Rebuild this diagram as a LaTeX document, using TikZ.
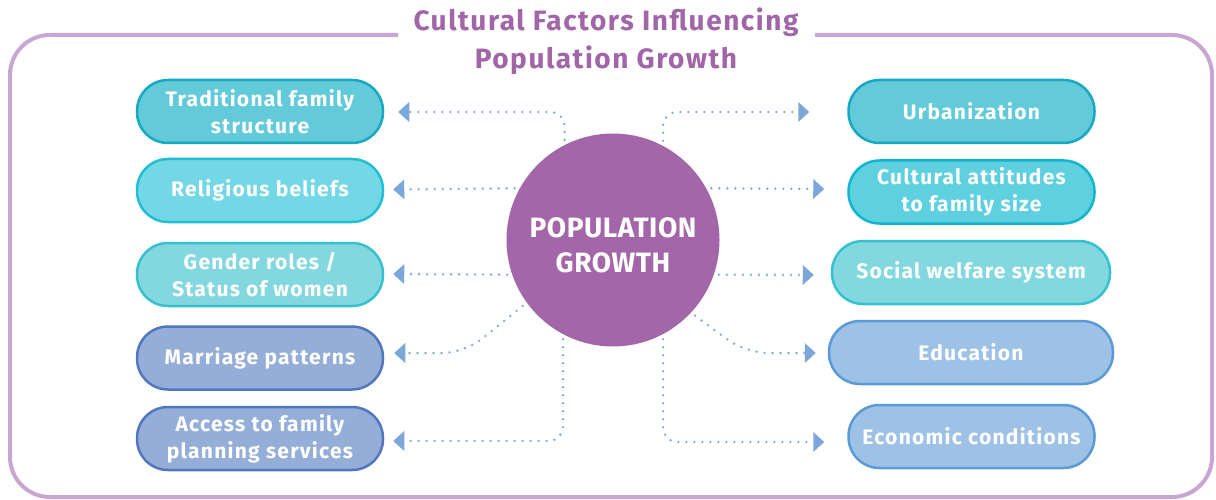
\documentclass[tikz,border=0pt]{standalone}
\usepackage{fontspec}
\setmainfont{Fira Sans}
\newfontfamily\boxfont[LetterSpace=6]{Fira Sans}
\newfontfamily\ttlfont[LetterSpace=5.5]{Fira Sans}
\newfontfamily\circfont[LetterSpace=2]{Fira Sans}
\usetikzlibrary{arrows.meta,calc}
\definecolor{titlecol}{HTML}{A066A8}
\definecolor{framecol}{HTML}{C9A6D2}
\definecolor{circcol}{HTML}{A366A8}
\definecolor{arrcol}{HTML}{7BA7DA}
\definecolor{tealA}{HTML}{62CAD9}\definecolor{tealAb}{HTML}{17A9C1}
\definecolor{tealB}{HTML}{74D7E5}\definecolor{tealBb}{HTML}{20BFD3}
\definecolor{tealC}{HTML}{83D8E0}\definecolor{tealCb}{HTML}{35C2CE}
\definecolor{tealD}{HTML}{5ED0E0}\definecolor{tealDb}{HTML}{0FB6CC}
\definecolor{blueA}{HTML}{94AED8}\definecolor{blueAb}{HTML}{5277BE}
\definecolor{blueB}{HTML}{9DC2E6}\definecolor{blueBb}{HTML}{5B9BD5}
\begin{document}
\begin{tikzpicture}[x=1pt,y=-1pt,
  factor/.style={draw, line width=2.5pt, rounded corners=31pt, minimum height=63pt,
    minimum width=246pt, text=white, align=center, inner sep=0pt,
    font=\boxfont\fontsize{21}{27}\selectfont\bfseries},
  conn/.style={draw=arrcol, line width=2.6pt, line cap=round, dash pattern=on 0pt off 8pt,
    shorten <=5pt, -{Triangle[length=11pt,width=20pt,fill=arrcol,line width=0pt]}},
  ttl/.style={text=titlecol, font=\ttlfont\fontsize{28}{38}\selectfont\bfseries, align=center}
]
\useasboundingbox (0,0) rectangle (1216,500);
% frame
\draw[framecol, line width=4pt, rounded corners=40pt] (398,35) -- (10,35) -- (10,497) -- (1212,497) -- (1212,35) -- (815,35);
\node[ttl] (title) at (606,41) {Cultural Factors Influencing\\Population Growth};
% centre
\node[circle, fill=circcol, minimum size=213pt, inner sep=0pt] (pg) at (613,240) {};
\node[text=white, align=center, font=\circfont\fontsize{28}{35}\selectfont\bfseries, yshift=-5pt] (pgt) at (pg.center) {POPULATION\\GROWTH};
% left
\node[factor, fill=tealA, draw=tealAb] (t1) at (260,111.5) {Traditional family\\structure};
\node[factor, fill=tealB, draw=tealBb] (t2) at (260,190.5) {Religious beliefs};
\node[factor, fill=tealC, draw=tealCb] (t3) at (260,274.5) {Gender roles /\\Status of women};
\node[factor, fill=blueA, draw=blueAb] (t4) at (260,358) {Marriage patterns};
\node[factor, fill=blueA, draw=blueAb] (t5) at (260,438.5) {Access to family\\planning services};
% right
\node[factor, fill=tealA, draw=tealAb] (u1) at (971.5,111.5) {Urbanization};
\node[factor, fill=tealD, draw=tealDb] (u2) at (971.5,192) {Cultural attitudes\\to family size};
\node[factor, fill=tealC, draw=tealCb, minimum width=278pt] (u3) at (971,272.5) {Social welfare system};
\node[factor, fill=blueB, draw=blueBb, minimum width=284pt] (u4) at (971,352.5) {Education};
\node[factor, fill=blueB, draw=blueBb] (u5) at (971.5,436.5) {Economic conditions};
% connectors left
\draw[conn, rounded corners=14pt] (pg.117) |- ([shift={(14,0.5)}]t1.east);
\draw[conn] (pg.151) -- ([shift={(9,-1)}]t2.east);
\draw[conn] (pg.199) -- ([shift={(9,-0.5)}]t3.east);
\draw[conn, rounded corners=22pt] (pg.216) -- ([shift={(80,-5)}]t4.east) -- ([shift={(10,-5)}]t4.east);
\draw[conn, rounded corners=14pt] (pg.242) |- ([shift={(9,2.5)}]t5.east);
% connectors right
\draw[conn, rounded corners=14pt] (pg.62) |- ([shift={(-38,0.5)}]u1.west);
\draw[conn] (pg.29) -- ([shift={(-23,-3)}]u2.west);
\draw[conn] (pg.-19) -- ([shift={(-17,2.5)}]u3.west);
\draw[conn, rounded corners=22pt] (pg.-43) -- ([shift={(-82,0.5)}]u4.west) -- ([shift={(-12,0.5)}]u4.west);
\draw[conn, rounded corners=14pt] (pg.-62) |- ([shift={(-23,5.5)}]u5.west);
\end{tikzpicture}
\end{document}
